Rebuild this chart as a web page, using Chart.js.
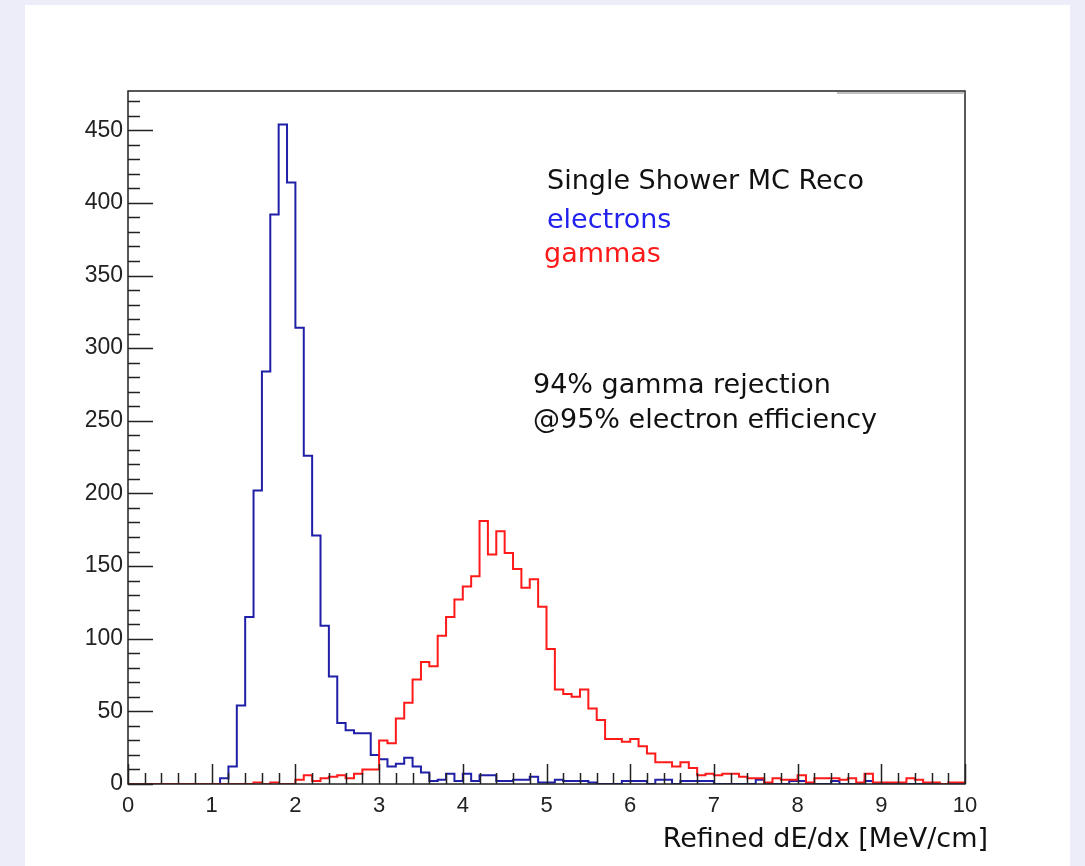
<!DOCTYPE html>
<html>
<head>
<meta charset="utf-8">
<title>Refined dE/dx</title>
<script src="https://cdn.jsdelivr.net/npm/chart.js@4.4.1/dist/chart.umd.min.js"></script>
<style>
  html, body { margin: 0; padding: 0; background: #ededf9; }
</style>
</head>
<body>
<canvas id="dedxChart" width="1085" height="866"></canvas>
<script>

// histogram bins: 100 bins of 0.1 MeV/cm from 0 to 10
const binWidth = 0.1;

const electronCounts = [
  0, 0, 0, 0, 0, 0, 0, 0, 0, 0,
  0, 4, 12, 54, 115, 202, 284, 392, 454, 414,
  314, 226, 171, 109, 74, 42, 37, 35, 35, 20,
  17, 12, 14, 18, 12, 8, 2, 3, 7, 2,
  7, 2, 6, 6, 2, 2, 3, 3, 5, 1,
  1, 3, 2, 2, 2, 1, 0, 0, 0, 2,
  2, 2, 0, 3, 3, 0, 2, 2, 2, 2,
  0, 0, 0, 0, 0, 3, 0, 0, 0, 2,
  2, 0, 0, 0, 2, 0, 0, 0, 2, 0,
  0, 0, 0, 0, 0, 0, 0, 0, 0, 0
];

const gammaCounts = [
  0, 0, 0, 0, 0, 0, 0, 0, 0, 0,
  0, 0, 0, 0, 0, 1, 0, 1, 0, 0,
  3, 6, 2, 4, 5, 6, 4, 7, 10, 10,
  30, 28, 45, 56, 72, 84, 81, 102, 115, 127,
  136, 143, 181, 158, 174, 159, 148, 135, 141, 122,
  93, 65, 62, 60, 65, 52, 44, 31, 31, 29,
  31, 26, 21, 15, 15, 12, 15, 11, 6, 7,
  6, 7, 7, 5, 4, 4, 1, 4, 3, 3,
  6, 1, 4, 4, 4, 3, 4, 1, 7, 1,
  1, 1, 1, 4, 3, 1, 1, 0, 1, 1
];

const xMin = 0, xMax = 10;
const yMin = 0, yMax = 477;
const xMajorStep = 1, xMinorStep = 0.2;
const yMajorStep = 50, yMinorStep = 10;

const legendLines = [
  { text: 'Single Shower MC Reco', color: '#111111' },
  { text: 'electrons', color: '#2222ee' },
  { text: 'gammas', color: '#ff1a1a' }
];
const noteLines = ['94% gamma rejection', '@95% electron efficiency'];
const xTitle = 'Refined dE/dx [MeV/cm]';

// one point per bin low edge + closing point at the upper edge.
// stepped 'before' keeps the previous bin's height until the next edge
function histPoints(counts) {
  const pts = counts.map((c, i) => ({ x: i * binWidth, y: c }));
  pts.push({ x: counts.length * binWidth, y: counts[counts.length - 1] });
  return pts;
}

// ROOT-like canvas: lavender page, white pad, frame with inward ticks
const rootStyle = {
  id: 'rootStyle',
  beforeDraw(chart) {
    const ctx = chart.ctx;
    ctx.save();
    ctx.fillStyle = '#ededf9';
    ctx.fillRect(0, 0, chart.width, chart.height);
    ctx.fillStyle = '#ffffff';
    ctx.fillRect(25, 5, 1045, chart.height - 5);
    ctx.restore();
  },
  afterDatasetsDraw(chart) {
    const ctx = chart.ctx;
    const a = chart.chartArea;
    const xs = chart.scales.x;
    const ys = chart.scales.y;
    ctx.save();

    // frame
    ctx.strokeStyle = '#222222';
    ctx.lineWidth = 1.5;
    ctx.strokeRect(a.left, a.top, a.right - a.left, a.bottom - a.top);

    // faint grey strip on top right of the frame
    ctx.strokeStyle = 'rgba(150,150,150,0.6)';
    ctx.lineWidth = 2;
    ctx.beginPath();
    ctx.moveTo(837, a.top + 2);
    ctx.lineTo(a.right, a.top + 2);
    ctx.stroke();

    // inward ticks
    ctx.strokeStyle = '#222222';
    ctx.lineWidth = 1.5;
    ctx.beginPath();
    const nx = Math.round((xMax - xMin) / xMinorStep);
    for (let k = 0; k <= nx; k++) {
      const px = Math.round(xs.getPixelForValue(xMin + k * xMinorStep)) + 0.5;
      const len = (k % Math.round(xMajorStep / xMinorStep) === 0) ? 20 : 11;
      ctx.moveTo(px, a.bottom);
      ctx.lineTo(px, a.bottom - len);
    }
    const ny = Math.floor((yMax - yMin) / yMinorStep);
    for (let k = 0; k <= ny; k++) {
      const py = Math.round(ys.getPixelForValue(yMin + k * yMinorStep)) + 0.5;
      const len = (k % Math.round(yMajorStep / yMinorStep) === 0) ? 25 : 12;
      ctx.moveTo(a.left, py);
      ctx.lineTo(a.left + len, py);
    }
    ctx.stroke();

    // text inside the pad
    ctx.textAlign = 'left';
    ctx.textBaseline = 'alphabetic';
    ctx.font = '27px "DejaVu Sans"';
    ctx.fillStyle = legendLines[0].color;
    ctx.fillText(legendLines[0].text, 547, 189);
    ctx.fillStyle = legendLines[1].color;
    ctx.fillText(legendLines[1].text, 547, 228);
    ctx.fillStyle = legendLines[2].color;
    ctx.fillText(legendLines[2].text, 544, 262);

    ctx.fillStyle = '#111111';
    ctx.fillText(noteLines[0], 533, 393);
    ctx.fillText(noteLines[1], 533, 428);

    // x axis title, right aligned like ROOT
    ctx.textAlign = 'right';
    ctx.fillText(xTitle, 988, 847);

    ctx.restore();
  }
};

const ctx = document.getElementById('dedxChart');

const dedxChart = new Chart(ctx, {
  type: 'line',
  data: {
    datasets: [
      {
        label: 'gammas',
        data: histPoints(gammaCounts),
        borderColor: '#ff1a1a',
        borderWidth: 2,
        stepped: 'before',
        pointRadius: 0,
        fill: false
      },
      {
        label: 'electrons',
        data: histPoints(electronCounts),
        borderColor: '#1f1fa8',
        borderWidth: 2,
        stepped: 'before',
        pointRadius: 0,
        fill: false
      }
    ]
  },
  options: {
    responsive: false,
    animation: false,
    layout: {
      padding: { top: 91, right: 120, left: 0, bottom: 0 }
    },
    plugins: {
      legend: { display: false },
      tooltip: { enabled: false },
      title: { display: false }
    },
    scales: {
      x: {
        type: 'linear',
        min: xMin,
        max: xMax,
        grid: { display: false, drawTicks: false },
        border: { display: false },
        ticks: {
          stepSize: xMajorStep,
          padding: 9,
          color: '#222222',
          font: { family: '"Liberation Sans", Arial', size: 22 },
          maxRotation: 0
        },
        afterFit(scale) { scale.height = 82; }
      },
      y: {
        type: 'linear',
        min: yMin,
        max: yMax,
        grid: { display: false, drawTicks: false },
        border: { display: false },
        ticks: {
          stepSize: yMajorStep,
          padding: 5,
          color: '#222222',
          font: { family: '"Liberation Sans", Arial', size: 23 }
        },
        afterBuildTicks(scale) {
          scale.ticks = scale.ticks.filter(t => t.value % yMajorStep === 0);
        },
        afterFit(scale) { scale.width = 128; }
      }
    }
  },
  plugins: [rootStyle]
});

</script>
</body>
</html>
